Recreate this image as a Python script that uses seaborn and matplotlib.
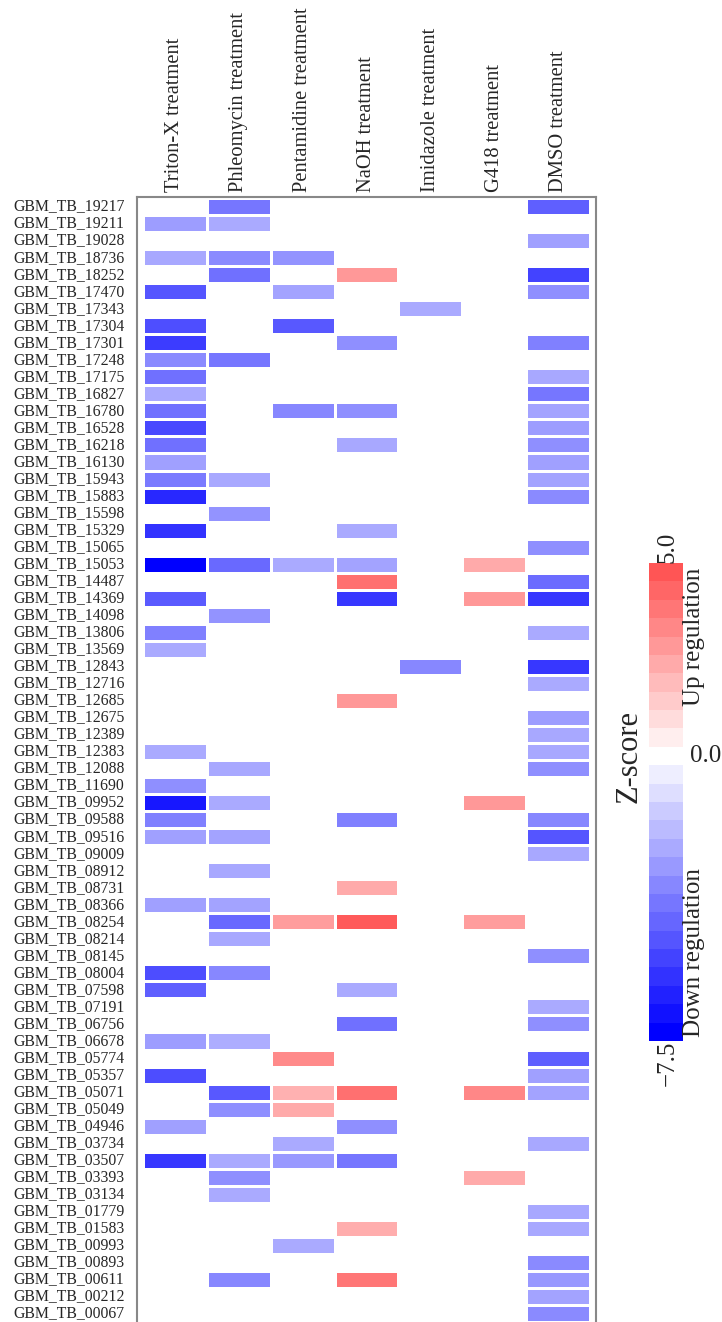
import numpy as np
import pandas as pd
import matplotlib
matplotlib.use("Agg")
import matplotlib.pyplot as plt
import seaborn as sns
from matplotlib.colors import LinearSegmentedColormap, ListedColormap, BoundaryNorm, Normalize
from matplotlib.cm import ScalarMappable

# ---------------- data ----------------
n = np.nan

genes = [
    "GBM_TB_19217", "GBM_TB_19211", "GBM_TB_19028", "GBM_TB_18736", "GBM_TB_18252",
    "GBM_TB_17470", "GBM_TB_17343", "GBM_TB_17304", "GBM_TB_17301", "GBM_TB_17248",
    "GBM_TB_17175", "GBM_TB_16827", "GBM_TB_16780", "GBM_TB_16528", "GBM_TB_16218",
    "GBM_TB_16130", "GBM_TB_15943", "GBM_TB_15883", "GBM_TB_15598", "GBM_TB_15329",
    "GBM_TB_15065", "GBM_TB_15053", "GBM_TB_14487", "GBM_TB_14369", "GBM_TB_14098",
    "GBM_TB_13806", "GBM_TB_13569", "GBM_TB_12843", "GBM_TB_12716", "GBM_TB_12685",
    "GBM_TB_12675", "GBM_TB_12389", "GBM_TB_12383", "GBM_TB_12088", "GBM_TB_11690",
    "GBM_TB_09952", "GBM_TB_09588", "GBM_TB_09516", "GBM_TB_09009", "GBM_TB_08912",
    "GBM_TB_08731", "GBM_TB_08366", "GBM_TB_08254", "GBM_TB_08214", "GBM_TB_08145",
    "GBM_TB_08004", "GBM_TB_07598", "GBM_TB_07191", "GBM_TB_06756", "GBM_TB_06678",
    "GBM_TB_05774", "GBM_TB_05357", "GBM_TB_05071", "GBM_TB_05049", "GBM_TB_04946",
    "GBM_TB_03734", "GBM_TB_03507", "GBM_TB_03393", "GBM_TB_03134", "GBM_TB_01779",
    "GBM_TB_01583", "GBM_TB_00993", "GBM_TB_00893", "GBM_TB_00611", "GBM_TB_00212",
    "GBM_TB_00067",
]

treatments = ["Triton-X treatment", "Phleomycin treatment", "Pentamidine treatment",
              "NaOH treatment", "Imidazole treatment", "G418 treatment", "DMSO treatment"]

triton = [n, -2.9, n, -2.55, n, -5.0, n, -5.2, -5.7, -3.4, -4.2,
          -2.5, -4.2, -5.4, -4.2, -2.8, -3.9, -6.3, n, -6.0, n, -7.5,
          n, -4.85, n, -3.7, -2.5, n, n, n, n, n, -2.5,
          n, -3.3, -6.8, -3.7, -2.8, n, n, n, -2.8, n, n,
          n, -5.25, -4.7, n, n, -2.9, n, -5.25, n, n, -2.8,
          n, -5.85, n, n, n, n, n, n, n, n, n]

phleomycin = [-4.0, -2.5, n, -3.4, -4.2, n, n, n, n, -4.0, n,
              n, n, n, n, n, -2.55, n, -3.2, n, n, -4.4,
              n, n, -3.2, n, n, n, n, n, n, n, n,
              -2.55, n, -2.5, n, -2.7, n, -2.55, n, -2.7, -4.4, -2.55,
              n, -3.5, n, n, n, -2.4, n, n, -4.9, -3.3, n,
              n, -2.5, -3.3, -2.5, n, n, n, n, -3.5, n, n]

pentamidine = [n, n, n, -3.2, n, -2.7, n, -4.9, n, n, n,
               n, -3.5, n, n, n, n, n, n, n, n, -2.5,
               n, n, n, n, n, n, n, n, n, n, n,
               n, n, n, n, n, n, n, n, n, 2.9, n,
               n, n, n, n, n, n, 3.4, n, 2.3, 2.5, n,
               -2.5, -3.0, n, n, n, n, -2.5, n, n, n, n]

naoh = [n, n, n, n, 3.0, n, n, n, -3.3, n, n,
        n, -3.3, n, -2.55, n, n, n, n, -2.5, n, -2.7,
        4.2, -5.85, n, n, n, n, n, 3.0, n, n, n,
        n, n, n, -3.7, n, n, n, 2.5, n, 4.85, n,
        n, n, -2.5, n, -4.2, n, n, n, 4.2, n, -3.3,
        n, -4.0, n, n, n, 2.4, n, n, 4.0, n, n]

imidazole = [n, n, n, n, n, n, -2.5, n, n, n, n,
             n, n, n, n, n, n, n, n, n, n, n,
             n, n, n, n, n, -3.5, n, n, n, n, n,
             n, n, n, n, n, n, n, n, n, n, n,
             n, n, n, n, n, n, n, n, n, n, n,
             n, n, n, n, n, n, n, n, n, n, n]

g418 = [n, n, n, n, n, n, n, n, n, n, n,
        n, n, n, n, n, n, n, n, n, n, 2.5,
        n, 3.0, n, n, n, n, n, n, n, n, n,
        n, n, 3.0, n, n, n, n, n, n, 2.9, n,
        n, n, n, n, n, n, n, n, 3.5, n, n,
        n, n, 2.5, n, n, n, n, n, n, n, n]

dmso = [-4.7, n, -2.8, n, -5.5, -3.3, n, n, -3.7, n, -2.55,
        -4.0, -2.7, -2.9, -3.3, -2.8, -2.7, -3.4, n, n, -3.3, n,
        -4.3, -5.85, n, -2.5, n, -5.85, -2.5, n, -2.9, -2.55, -2.55,
        -3.3, n, n, -3.5, -5.0, -2.55, n, n, n, n, n,
        -3.3, n, n, -2.5, -3.3, n, -4.7, -2.8, -2.7, n, n,
        -2.55, n, n, n, -2.55, -2.55, n, -3.4, -3.0, -2.7, -3.4]

zmin, zmax = -7.5, 5.0
blue_levels = np.arange(-7.5, 0, 0.5)      # 15 down-regulation steps
red_levels = np.arange(0.5, 5.01, 0.5)     # 10 up-regulation steps

df = pd.DataFrame(dict(zip(treatments,
                           [triton, phleomycin, pentamidine, naoh, imidazole, g418, dmso])),
                  index=genes)

# ---------------- style ----------------
sns.set_style("white")
plt.rcParams["font.family"] = ["Liberation Serif", "DejaVu Serif"]

# blue -> white -> red, white sits at 0
cmap = LinearSegmentedColormap.from_list(
    "zscore", [(0.0, "#0000ff"), (-zmin / (zmax - zmin), "#ffffff"), (1.0, "#ff5555")])
norm = Normalize(vmin=zmin, vmax=zmax)

W, H = 722, 1322
fig = plt.figure(figsize=(W / 100, H / 100), dpi=100)

# heatmap
ax = fig.add_axes([137 / W, 0, (596 - 137) / W, (H - 196.5) / H])
sns.heatmap(df, ax=ax, cmap=cmap, vmin=zmin, vmax=zmax, cbar=False,
            linewidths=0.8, linecolor="white", xticklabels=True, yticklabels=True)
ax.set_xlim(-0.094, len(treatments) + 0.094)
ax.set_ylim(len(genes), -0.09)
ax.xaxis.tick_top()
ax.tick_params(axis="x", labelrotation=90, length=0, pad=3, labelsize=14.8)
ax.tick_params(axis="y", labelrotation=0, length=0, pad=9, labelsize=11.3)
for side in ["top", "left", "right"]:
    ax.spines[side].set_visible(True)
    ax.spines[side].set_color("#888888")
    ax.spines[side].set_linewidth(1.5)
ax.spines["bottom"].set_visible(False)

# stepped colour key: 15 blue, 1 white, 10 red
key_colors = [cmap(norm(v)) for v in blue_levels] + ["#ffffff"] + [cmap(norm(v)) for v in red_levels]
nbins = len(key_colors)
zero_bin = len(blue_levels) + 0.5

cax = fig.add_axes([649 / W, (H - 1041) / H, 34 / W, 478 / H])
sm = ScalarMappable(norm=BoundaryNorm(np.arange(nbins + 1), nbins), cmap=ListedColormap(key_colors))
cbar = fig.colorbar(sm, cax=cax)
cbar.outline.set_visible(False)
cbar.set_ticks([])
cax.minorticks_off()
cax.tick_params(which="both", length=0)

tr = cax.get_yaxis_transform()
cax.text(0.55, nbins, f"{zmax:.1f}", rotation=90, ha="center", va="bottom", fontsize=18, transform=tr)
cax.text(0.55, 0, f"\u2212{abs(zmin):.1f}", rotation=90, ha="center", va="top", fontsize=18, transform=tr)
cax.text(1.2, zero_bin, "0.0", ha="left", va="center", fontsize=18, transform=tr)
cax.text(1.0, nbins - 0.25, "Up regulation", rotation=90, ha="left", va="top", fontsize=18, transform=tr)
cax.text(1.0, 0.2, "Down regulation", rotation=90, ha="left", va="bottom", fontsize=18, transform=tr)
cax.text(-0.59, zero_bin, "Z-score", rotation=90, ha="center", va="center", fontsize=22, transform=tr)

fig.savefig("out.png", dpi=100)
